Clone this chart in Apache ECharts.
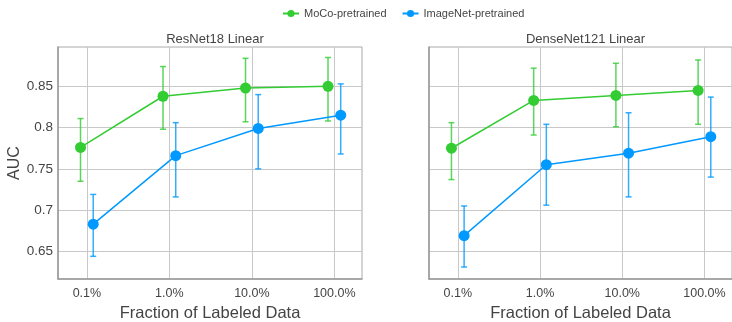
<!DOCTYPE html>
<html>
<head>
<meta charset="utf-8">
<script src="https://cdn.jsdelivr.net/npm/echarts@6/dist/echarts.min.js"></script>
<style>html,body{margin:0;padding:0;background:#fff}#c{width:732px;height:322px}</style>
</head>
<body>
<div id="c"></div>
<script>
// ---- data ----
const fractions = [0.1, 1, 10, 100];            // percent of labeled data
const tickLabels = ['0.1%', '1.0%', '10.0%', '100.0%'];
const yTicks = [0.65, 0.7, 0.75, 0.8, 0.85];
const panelTitles = ['ResNet18 Linear', 'DenseNet121 Linear'];
const seriesNames = ['MoCo-pretrained', 'ImageNet-pretrained'];

// ResNet18
const resMocoMean = [0.776, 0.838, 0.848, 0.850];
const resMocoLow  = [0.735, 0.798, 0.807, 0.808];
const resMocoHigh = [0.811, 0.874, 0.884, 0.885];
const resImgMean  = [0.683, 0.766, 0.799, 0.815];
const resImgLow   = [0.644, 0.716, 0.750, 0.768];
const resImgHigh  = [0.719, 0.806, 0.840, 0.853];
// DenseNet121
const denMocoMean = [0.775, 0.833, 0.839, 0.845];
const denMocoLow  = [0.737, 0.791, 0.801, 0.804];
const denMocoHigh = [0.806, 0.872, 0.878, 0.882];
const denImgMean  = [0.669, 0.755, 0.769, 0.789];
const denImgLow   = [0.631, 0.706, 0.716, 0.740];
const denImgHigh  = [0.705, 0.804, 0.818, 0.837];

// ---- styling ----
const colors = ['#33cc33', '#0099ff'];
const dodge = [-0.077, 0.077]; // horizontal offset in decades
const FONT = 'Arial, "Liberation Sans", sans-serif';
const txt = '#444';

const xs = fractions.map(f => Math.log10(f));

function pts(mean, si) { return mean.map((m, i) => [xs[i] + dodge[si], m]); }
function errs(low, high, si) { return low.map((l, i) => [xs[i] + dodge[si], l, high[i]]); }

function errRender(color) {
  return function (params, api) {
    const x = api.value(0);
    const p1 = api.coord([x, api.value(1)]);
    const p2 = api.coord([x, api.value(2)]);
    const w = 3;
    const st = { stroke: color, lineWidth: 1.5, opacity: 0.8 };
    return { type: 'group', children: [
      { type: 'line', shape: { x1: p1[0], y1: p1[1], x2: p2[0], y2: p2[1] }, style: st },
      { type: 'line', shape: { x1: p1[0] - w, y1: p1[1], x2: p1[0] + w, y2: p1[1] }, style: st },
      { type: 'line', shape: { x1: p2[0] - w, y1: p2[1], x2: p2[0] + w, y2: p2[1] }, style: st }
    ]};
  };
}

const grids = [
  { left: 58, top: 47, width: 304, height: 232 },
  { left: 429, top: 47, width: 303, height: 232 }
];

const xAxes = grids.map((g, gi) => ({
  type: 'value', gridIndex: gi, min: -1.35, max: 2.335,
  name: 'Fraction of Labeled Data', nameLocation: 'middle', nameGap: 23,
  nameTextStyle: { fontSize: 16.5, color: txt, fontFamily: FONT },
  axisLine: { show: true, onZero: false, lineStyle: { color: '#999', width: 1.5 } },
  axisTick: { show: false, customValues: xs },
  axisLabel: { customValues: xs, fontSize: 12.5, color: txt, fontFamily: FONT, margin: 8,
    formatter: v => { const i = xs.findIndex(t => Math.abs(t - v) < 1e-6); return i >= 0 ? tickLabels[i] : ''; } },
  splitLine: { show: true, lineStyle: { color: '#c8c8c8', width: 1 } }
}));

const yAxes = grids.map((g, gi) => ({
  type: 'value', gridIndex: gi, min: 0.6165, max: 0.8977,
  name: gi === 0 ? 'AUC' : '', nameLocation: 'middle', nameGap: 32, nameRotate: 90,
  nameTextStyle: { fontSize: 16, color: txt, fontFamily: FONT },
  axisLine: { show: true, onZero: false, lineStyle: { color: '#999', width: 1.5 } },
  axisTick: { show: false, customValues: yTicks },
  axisLabel: { show: gi === 0, customValues: yTicks, fontSize: 13.5, color: txt, fontFamily: FONT, margin: 5,
    formatter: v => String(+v.toFixed(2)) },
  splitLine: { show: true, lineStyle: { color: '#c8c8c8', width: 1 } }
}));

const panels = [
  [[resMocoMean, resMocoLow, resMocoHigh], [resImgMean, resImgLow, resImgHigh]],
  [[denMocoMean, denMocoLow, denMocoHigh], [denImgMean, denImgLow, denImgHigh]]
];

const lineSeries = [];
const errSeries = [];
panels.forEach((panel, gi) => {
  panel.forEach(([mean, low, high], si) => {
    lineSeries.push({
      type: 'line', name: seriesNames[si], xAxisIndex: gi, yAxisIndex: gi,
      data: pts(mean, si), symbol: 'circle', symbolSize: 11, showSymbol: true,
      lineStyle: { color: colors[si], width: 1.5 }, itemStyle: { color: colors[si] },
      z: 3
    });
    errSeries.push({
      type: 'custom', name: seriesNames[si], xAxisIndex: gi, yAxisIndex: gi,
      itemStyle: { color: colors[si] },
      renderItem: errRender(colors[si]), data: errs(low, high, si), z: 2, silent: true
    });
  });
});

const chart = echarts.init(document.getElementById('c'), null, { renderer: 'canvas' });
chart.setOption({
  animation: false,
  backgroundColor: '#fff',
  title: panelTitles.map((t, i) => ({
    text: t, left: grids[i].left + grids[i].width / 2, top: 28, textAlign: 'center',
    textStyle: { fontSize: 13, fontWeight: 'normal', color: txt, fontFamily: FONT }
  })),
  legend: {
    data: seriesNames.map(n => ({ name: n })), left: 277, top: 3, itemWidth: 16, itemHeight: 9, itemGap: 15,
    textStyle: { fontSize: 11, color: txt, fontFamily: FONT }
  },
  grid: grids.map(g => Object.assign({ show: true, borderColor: '#aaa', borderWidth: 1, backgroundColor: 'transparent',
    containLabel: false, outerBoundsMode: 'none' }, g)),
  xAxis: xAxes,
  yAxis: yAxes,
  series: lineSeries.concat(errSeries)
});
</script>
</body>
</html>
